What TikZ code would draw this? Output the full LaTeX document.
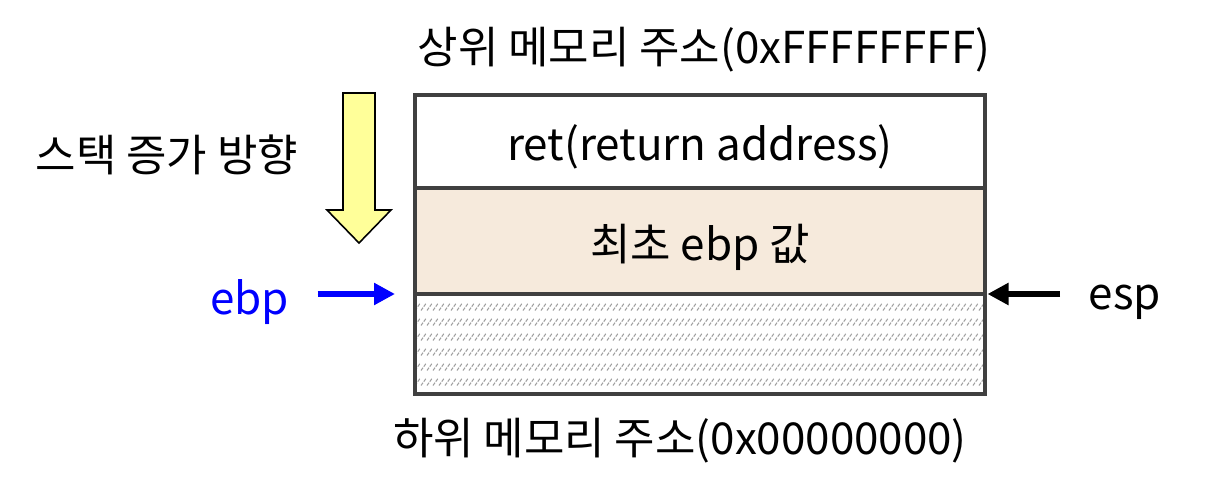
\documentclass[tikz,border=0pt]{standalone}
\usepackage{fontspec}
\setmainfont{Noto Sans CJK KR}
\usepackage{tikz}
\usetikzlibrary{positioning,arrows.meta,calc}
\definecolor{FrameGray}{RGB}{64,64,64}
\definecolor{SavedFill}{RGB}{246,234,220}
\definecolor{GrowYellow}{RGB}{255,255,153}
\definecolor{EbpBlue}{RGB}{0,0,255}
\definecolor{HatchGray}{RGB}{160,160,160}

\begin{document}
\begin{tikzpicture}[
font=\fontsize{25}{29}\selectfont,
frame/.style={rectangle,draw=FrameGray,line width=2.3pt,outer sep=0pt,minimum width=11.4cm,
  text height=0.8cm,text depth=0.04cm,align=center},
hatched/.style={path picture={
  \foreach \r in {0,...,5}
   \foreach \c in {0,...,95}
    \draw[HatchGray,line width=0.6pt,dash pattern=on 2pt off 0.7pt]
     ([shift={(\c*0.12,-0.33-\r*0.3)}]path picture bounding box.north west) -- ++(0.1,0.14);
}},
ptr/.style={-{Triangle[length=0.42cm,width=0.42cm]},line width=3pt}
]
\useasboundingbox (0,0) rectangle (24.44,9.72);
% stack frame
\node[frame,minimum height=1.86cm] (ret) at (14,6.89) {ret(return address)};
\node[frame,fill=SavedFill,minimum height=2.12cm,below=0pt of ret] (saved) {최초 ebp 값};
\node[frame,hatched,minimum height=2cm,below=0pt of saved] (stack) {};
\node[above=0.33cm of ret,xshift=0.08cm] (hi) {상위 메모리 주소(0xFFFFFFFF)};
\node[below=0.36cm of stack,xshift=-0.4cm] (lo) {하위 메모리 주소(0x00000000)};
% growth direction
\node (grow) at (3.34,6.62) {스택 증가 방향};
\draw[fill=GrowYellow,line width=0.9pt,line join=miter]
  (6.86,7.86) -- (7.5,7.86) -- (7.5,5.52) -- (7.82,5.52) -- (7.18,4.86)
  -- (6.54,5.52) -- (6.86,5.52) -- cycle;
% pointers
\coordinate (ebptip) at ([xshift=-0.4cm]stack.north west);
\coordinate (esptip) at ([xshift=0.05cm]stack.north east);
\node[text=EbpBlue,left=2cm of ebptip,yshift=-0.17cm] (ebp) {ebp};
\node[right=1.9cm of esptip,yshift=-0.17cm] (esp) {esp};
\draw[ptr,draw=EbpBlue,fill=EbpBlue,shorten <=0.45cm] (ebp.east |- ebptip) -- (ebptip);
\draw[ptr,shorten <=0.45cm] (esp.west |- esptip) -- (esptip);
\end{tikzpicture}
\end{document}
